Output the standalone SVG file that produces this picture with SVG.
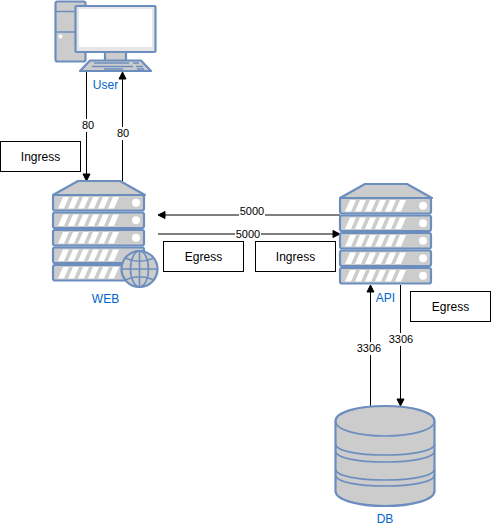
<svg xmlns="http://www.w3.org/2000/svg" width="491" height="527" viewBox="0 0 491 527">
<style>
text{font-family:"Liberation Sans",Arial,sans-serif;font-size:12px;text-anchor:middle}
.c{font-size:11px}
.s{fill:#ccc;stroke:#6c8ebf;stroke-width:2.2;stroke-linejoin:round}
.t{fill:#0066cc}
.b{fill:#fff;stroke:#000;stroke-width:1}
.w{fill:#fff;stroke:none}
.l{fill:none;stroke:#000;stroke-width:1}
.a{fill:#000;stroke:#000;stroke-width:1}
.g{fill:none;stroke:#6c8ebf;stroke-width:1.6}
</style>
<defs>
<g id="bar">
<rect class="s" x="0" y="0" width="91" height="15.500" rx="2"/>
<path class="w" d="M5 13.500L10 2H16L11 13.500ZM15 13.500L20 2H26L21 13.500ZM25 13.500L30 2H36L31 13.500ZM35 13.500L40 2H46L41 13.500ZM45 13.500L50 2H56L51 13.500ZM55 13.500L60 2H66L61 13.500Z"/>
<circle class="w" cx="83" cy="7.800" r="4"/>
</g>
<g id="srv">
<path class="s" d="M25 -14H67L92 0H0Z"/>
<use href="#bar"/><use href="#bar" y="17.500"/><use href="#bar" y="35"/><use href="#bar" y="52.500"/><use href="#bar" y="70"/>
</g>
</defs>
<g id="connectors">
<path class="l" d="M86.500 71V175M122.500 181V78M340 215H165M158 234H334M370.500 406V291M400.500 285V400"/>
<path class="a" d="M86.500 181L83 174H90ZM122.500 72L119 79H126ZM158 215L165 211.500V218.500ZM340 234L333 230.500V237.500ZM370.500 285L367 292H374ZM400.500 406L397 399H404Z"/>
<rect class="w" x="80" y="119" width="16" height="13"/><text class="c" x="88" y="129">80</text>
<rect class="w" x="115" y="127" width="16" height="13"/><text class="c" x="123" y="137">80</text>
<rect class="w" x="239" y="205" width="26" height="13"/><text class="c" x="252" y="215">5000</text>
<rect class="w" x="235" y="228" width="26" height="13"/><text class="c" x="248" y="238">5000</text>
<rect class="w" x="356" y="342" width="26" height="13"/><text class="c" x="369" y="352">3306</text>
<rect class="w" x="388" y="333" width="26" height="13"/><text class="c" x="401" y="343">3306</text>
</g>
<g id="user">
<rect class="s" x="55.500" y="1.500" width="30" height="60" rx="2"/>
<path class="g" d="M55.500 11.500H85.500M55.500 32H85.500"/>
<circle class="w" cx="60.500" cy="36.500" r="2"/>
<rect class="s" x="105" y="51" width="21" height="10"/>
<rect x="75.500" y="6" width="80" height="46" rx="1" fill="#e6e6e6" stroke="#6c8ebf" stroke-width="2.200"/>
<rect x="79" y="9" width="73" height="38" fill="#fff"/>
<path class="s" d="M90 60.500H141L151 71H80Z"/>
<path class="g" d="M94 63H129M133 63H139M92 66.500H133M136 66.500H143M104 69H123M137 69H144"/>
<text class="t" x="105.500" y="89">User</text>
</g>
<g id="web">
<use href="#srv" x="53" y="195"/>
<circle cx="139.500" cy="269" r="18" class="s"/>
<path class="g" d="M122 269H157M125 258C134 262 145 262 154 258M125 280C134 276 145 276 154 280M139.500 251V287"/>
<ellipse class="g" cx="139.500" cy="269" rx="9" ry="18"/>
<text class="t" x="105.500" y="303">WEB</text>
</g>
<g id="api">
<use href="#srv" x="340" y="198"/>
<text class="t" x="385.500" y="302">API</text>
</g>
<g id="db">
<path class="s" d="M335.500 421C335.500 412 358 406 385 406S434.500 412 434.500 421V491C434.500 500 412 506 385 506S335.500 500 335.500 491Z"/>
<path class="g" d="M335.500 421C335.500 430 358 436 385 436S434.500 430 434.500 421M335.500 444C335.500 451 358 455 385 455S434.500 451 434.500 444M335.500 451C335.500 458 358 462 385 462S434.500 458 434.500 451M335.500 469C335.500 476 358 480 385 480S434.500 476 434.500 469M335.500 475C335.500 482 358 486 385 486S434.500 482 434.500 475"/>
<text class="t" x="385" y="523">DB</text>
</g>
<g id="ingress-web"><rect class="b" x="0.500" y="141.500" width="80" height="30"/><text x="40.500" y="161">Ingress</text></g>
<g id="egress-web"><rect class="b" x="163.500" y="241.500" width="80" height="30"/><text x="203.500" y="261">Egress</text></g>
<g id="ingress-api"><rect class="b" x="255.500" y="241.500" width="80" height="30"/><text x="295.500" y="261">Ingress</text></g>
<g id="egress-api"><rect class="b" x="410.500" y="291.500" width="80" height="30"/><text x="450.500" y="311">Egress</text></g>
</svg>
